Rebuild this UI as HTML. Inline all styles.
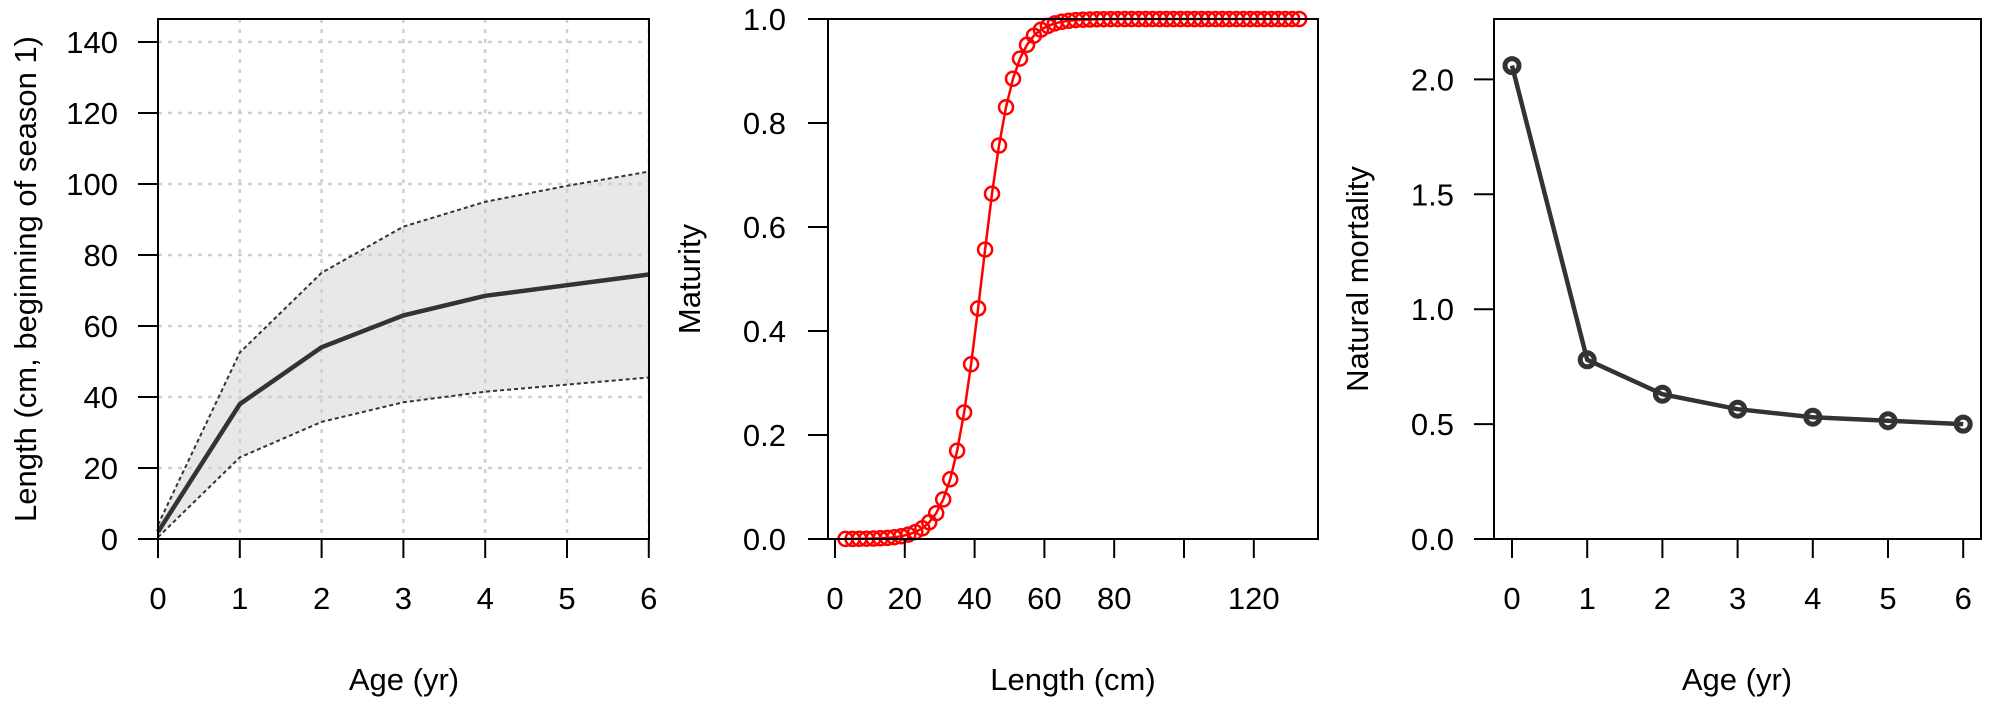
<!DOCTYPE html>
<html><head><meta charset="utf-8"><style>
html,body{margin:0;padding:0;background:#fff;}
svg text{font-family:"Liberation Sans",Arial,sans-serif;font-size:31px;fill:#000;}
</style></head><body>
<svg id="s" width="2007" height="708" viewBox="0 0 2007 708" xmlns="http://www.w3.org/2000/svg"></svg>
<script>
var s=document.getElementById('s'),h='';
function L(x1,y1,x2,y2,st){h+='<line x1="'+x1+'" y1="'+y1+'" x2="'+x2+'" y2="'+y2+'" style="'+st+'"/>';}
function T(x,y,t,a,rot){h+='<text x="'+x+'" y="'+y+'" text-anchor="'+(a||'middle')+'"'+(rot?' transform="rotate(-90 '+x+' '+y+')"':'')+'>'+t+'</text>';}
function P(pts,st){h+='<polyline points="'+pts.map(function(p){return p[0].toFixed(1)+','+p[1].toFixed(1)}).join(' ')+'" style="fill:none;'+st+'"/>';}
var B=539,Tp=19;
// Panel 1
var x0=158,xs=81.8,yb=539,ys=(539-42)/140;
function X1(a){return x0+a*xs} function Y1(v){return yb-v*ys}
var mean=[2,38,54,63,68.5,71.5,74.5],up=[4,52.5,75,88,95,99.5,103.5],lo=[0.5,23,33,38.5,41.5,43.5,45.5];
var poly=[];for(var i=0;i<7;i++)poly.push([X1(i),Y1(up[i])]);for(i=6;i>=0;i--)poly.push([X1(i),Y1(lo[i])]);
h+='<polygon points="'+poly.map(function(p){return p[0]+','+p[1]}).join(' ')+'" fill="#e8e8e8"/>';
for(i=1;i<=6;i++)L(X1(i),Tp,X1(i),B,'stroke:#d0d0d0;stroke-width:2.5;stroke-dasharray:4,6');
for(i=20;i<=140;i+=20)L(x0,Y1(i),649,Y1(i),'stroke:#d0d0d0;stroke-width:2.5;stroke-dasharray:4,6');
P(up.map(function(v,i){return[X1(i),Y1(v)]}),'stroke:#333;stroke-width:2;stroke-dasharray:4,3');
P(lo.map(function(v,i){return[X1(i),Y1(v)]}),'stroke:#333;stroke-width:2;stroke-dasharray:4,3');
P(mean.map(function(v,i){return[X1(i),Y1(v)]}),'stroke:#333;stroke-width:4.5');
h+='<rect x="158" y="19" width="491" height="520" fill="none" stroke="#000" stroke-width="2"/>';
for(i=0;i<=140;i+=20){L(138,Y1(i),158,Y1(i),'stroke:#000;stroke-width:2');T(118,Y1(i)+11,i,'end');}
for(i=0;i<=6;i++){L(X1(i),B,X1(i),558,'stroke:#000;stroke-width:2');T(X1(i),609,i);}
T(404,690,'Age (yr)');T(36,279,'Length (cm, beginning of season 1)','middle',1);
// Panel 2
var x2=835,xs2=69.8/20;function X2(v){return x2+v*xs2} function Y2(v){return 539-v*520}
var mp=[];for(var l=3;l<=133;l+=2){mp.push([X2(l),Y2(1/(1+Math.exp(-0.227*(l-42))))]);}
P(mp,'stroke:#f00;stroke-width:2.5');
mp.forEach(function(p){h+='<circle cx="'+p[0].toFixed(1)+'" cy="'+p[1].toFixed(1)+'" r="7" fill="none" stroke="#f00" stroke-width="2.5"/>';});
h+='<rect x="828" y="19" width="490" height="520" fill="none" stroke="#000" stroke-width="2"/>';
for(i=0;i<=5;i++){var v=i*0.2;L(808,Y2(v),828,Y2(v),'stroke:#000;stroke-width:2');T(786,Y2(v)+11,v.toFixed(1),'end');}
for(i=0;i<=120;i+=20){L(X2(i),B,X2(i),558,'stroke:#000;stroke-width:2');if(i!=100)T(X2(i),609,i);}
T(1073,690,'Length (cm)');T(700,279,'Maturity','middle',1);
// Panel 3
var x3=1512,xs3=75.2;function X3(a){return x3+a*xs3} function Y3(v){return 539-v*229.8}
var M=[2.06,0.78,0.63,0.565,0.53,0.515,0.50];
var mp3=M.map(function(v,i){return[X3(i),Y3(v)]});
P(mp3,'stroke:#333;stroke-width:4.5');
mp3.forEach(function(p){h+='<circle cx="'+p[0]+'" cy="'+p[1].toFixed(1)+'" r="7" fill="none" stroke="#333" stroke-width="5"/>';});
h+='<rect x="1494" y="19" width="487" height="520" fill="none" stroke="#000" stroke-width="2"/>';
for(i=0;i<=4;i++){var v=i*0.5;L(1474,Y3(v),1494,Y3(v),'stroke:#000;stroke-width:2');T(1454,Y3(v)+11,v.toFixed(1),'end');}
for(i=0;i<=6;i++){L(X3(i),B,X3(i),558,'stroke:#000;stroke-width:2');T(X3(i),609,i);}
T(1737,690,'Age (yr)');T(1368,279,'Natural mortality','middle',1);
s.innerHTML=h;
</script>
</body></html>
